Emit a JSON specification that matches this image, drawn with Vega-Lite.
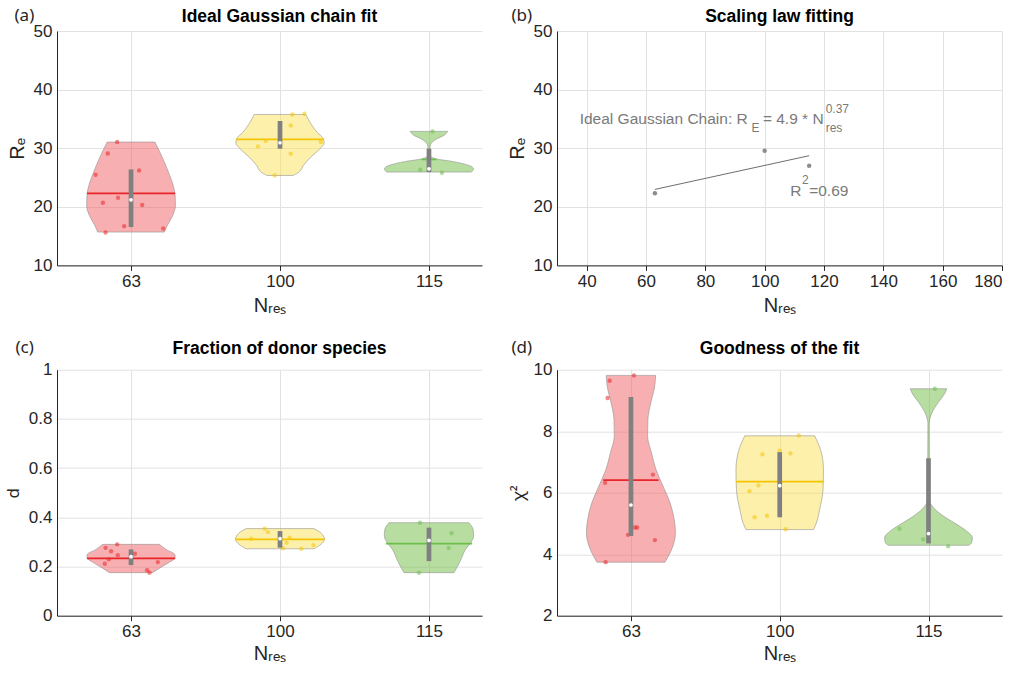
{
  "$schema": "https://vega.github.io/schema/vega-lite/v6.json",
  "background": "white",
  "padding": {"left": 4, "top": 6, "right": 10, "bottom": 5},
  "columns": 2,
  "bounds": "flush",
  "align": "each",
  "spacing": {"row": 103.7, "column": 75},
  "config": {
    "view": {"stroke": null},
    "font": "Liberation Sans, Arial, sans-serif",
    "axis": {
      "labelFont": "Liberation Sans, Arial, sans-serif",
      "labelFontSize": 17,
      "labelColor": "#262626",
      "titleFont": "Liberation Sans, Arial, sans-serif",
      "titleFontSize": 20,
      "titleFontWeight": "normal",
      "titleColor": "#262626",
      "domainColor": "#262626",
      "tickColor": "#262626",
      "gridColor": "#e2e2e2",
      "gridWidth": 1
    },
    "title": {"font": "Liberation Sans, Arial, sans-serif", "fontSize": 17.5, "fontWeight": "bold", "color": "#000000", "offset": 6}
  },
  "datasets": {
    "vioA": [
      {"g": "63", "v": 15.69, "x": 0.776, "x2": 1.224},
      {"g": "63", "v": 16.81, "x": 0.757, "x2": 1.243},
      {"g": "63", "v": 18.52, "x": 0.72, "x2": 1.28},
      {"g": "63", "v": 20.23, "x": 0.702, "x2": 1.298},
      {"g": "63", "v": 21.94, "x": 0.704, "x2": 1.296},
      {"g": "63", "v": 24.22, "x": 0.724, "x2": 1.276},
      {"g": "63", "v": 26.49, "x": 0.758, "x2": 1.242},
      {"g": "63", "v": 28.77, "x": 0.796, "x2": 1.204},
      {"g": "63", "v": 31.05, "x": 0.84, "x2": 1.16},
      {"g": "100", "v": 25.35, "x": 1.913, "x2": 2.087},
      {"g": "100", "v": 25.93, "x": 1.872, "x2": 2.128},
      {"g": "100", "v": 27.06, "x": 1.843, "x2": 2.157},
      {"g": "100", "v": 28.49, "x": 1.793, "x2": 2.207},
      {"g": "100", "v": 29.9, "x": 1.732, "x2": 2.268},
      {"g": "100", "v": 30.88, "x": 1.704, "x2": 2.296},
      {"g": "100", "v": 31.61, "x": 1.709, "x2": 2.291},
      {"g": "100", "v": 32.76, "x": 1.752, "x2": 2.248},
      {"g": "100", "v": 34.18, "x": 1.793, "x2": 2.207},
      {"g": "100", "v": 35.76, "x": 1.827, "x2": 2.173},
      {"g": "115", "v": 25.93, "x": 2.716, "x2": 3.284},
      {"g": "115", "v": 26.49, "x": 2.701, "x2": 3.299},
      {"g": "115", "v": 27.06, "x": 2.732, "x2": 3.268},
      {"g": "115", "v": 27.74, "x": 2.843, "x2": 3.157},
      {"g": "115", "v": 28.2, "x": 2.955, "x2": 3.045},
      {"g": "115", "v": 28.77, "x": 2.993, "x2": 3.007},
      {"g": "115", "v": 30.2, "x": 2.993, "x2": 3.007},
      {"g": "115", "v": 30.93, "x": 2.982, "x2": 3.018},
      {"g": "115", "v": 31.5, "x": 2.955, "x2": 3.045},
      {"g": "115", "v": 32.18, "x": 2.9, "x2": 3.1},
      {"g": "115", "v": 32.87, "x": 2.874, "x2": 3.126}
    ],
    "meanA": [
      {"g": "63", "v": 22.28, "x": 0.704, "x2": 1.296},
      {"g": "100", "v": 31.5, "x": 1.707, "x2": 2.293},
      {"g": "115", "v": 28.08, "x": 2.95, "x2": 3.05}
    ],
    "boxA": [
      {"g": "63", "x": 1, "v": 16.54, "v2": 26.38},
      {"g": "100", "x": 2, "v": 29.91, "v2": 34.64},
      {"g": "115", "x": 3, "v": 25.93, "v2": 29.91}
    ],
    "medA": [
      {"g": "63", "x": 1, "v": 21.2},
      {"g": "100", "x": 2, "v": 30.93},
      {"g": "115", "x": 3, "v": 26.49}
    ],
    "ptsA": [
      {"g": "63", "x": 0.907, "v": 31.05},
      {"g": "63", "x": 0.844, "v": 29.1},
      {"g": "63", "x": 0.762, "v": 25.47},
      {"g": "63", "x": 1.054, "v": 26.2},
      {"g": "63", "x": 0.811, "v": 20.69},
      {"g": "63", "x": 0.913, "v": 21.54},
      {"g": "63", "x": 1.075, "v": 20.3},
      {"g": "63", "x": 0.954, "v": 16.7},
      {"g": "63", "x": 0.829, "v": 15.62},
      {"g": "63", "x": 1.216, "v": 16.3},
      {"g": "100", "x": 2.083, "v": 35.76},
      {"g": "100", "x": 2.164, "v": 35.88},
      {"g": "100", "x": 2.072, "v": 33.89},
      {"g": "100", "x": 1.904, "v": 31.22},
      {"g": "100", "x": 1.852, "v": 30.3},
      {"g": "100", "x": 2.274, "v": 31.05},
      {"g": "100", "x": 2.072, "v": 29.05},
      {"g": "100", "x": 1.964, "v": 25.35},
      {"g": "115", "x": 3.024, "v": 32.87},
      {"g": "115", "x": 2.942, "v": 26.32},
      {"g": "115", "x": 3.087, "v": 25.81}
    ],
    "ptsB": [
      {"x": 63, "v": 22.3},
      {"x": 100, "v": 29.57},
      {"x": 115, "v": 27.0}
    ],
    "fitB": [
      {"x": 63, "v": 22.97},
      {"x": 115, "v": 28.72}
    ],
    "textB": [
      {"t": "Ideal Gaussian Chain: R", "x": 37.65, "v": 34.17, "k": "main"},
      {"t": "E", "x": 95.6, "v": 32.76, "k": "small"},
      {"t": "= 4.9 * N", "x": 99.4, "v": 34.17, "k": "main"},
      {"t": "0.37", "x": 120.57, "v": 36.05, "k": "small"},
      {"t": "res", "x": 120.57, "v": 32.76, "k": "small"},
      {"t": "R", "x": 108.6, "v": 21.83, "k": "main"},
      {"t": "2", "x": 112.6, "v": 23.93, "k": "small"},
      {"t": "=0.69", "x": 115.0, "v": 21.83, "k": "main"}
    ],
    "vioC": [
      {"g": "63", "v": 0.175, "x": 0.855, "x2": 1.145},
      {"g": "63", "v": 0.195, "x": 0.804, "x2": 1.196},
      {"g": "63", "v": 0.2155, "x": 0.748, "x2": 1.252},
      {"g": "63", "v": 0.236, "x": 0.704, "x2": 1.296},
      {"g": "63", "v": 0.249, "x": 0.706, "x2": 1.294},
      {"g": "63", "v": 0.2695, "x": 0.765, "x2": 1.235},
      {"g": "63", "v": 0.29, "x": 0.81, "x2": 1.19},
      {"g": "100", "v": 0.272, "x": 1.772, "x2": 2.228},
      {"g": "100", "v": 0.29, "x": 1.725, "x2": 2.275},
      {"g": "100", "v": 0.31, "x": 1.701, "x2": 2.299},
      {"g": "100", "v": 0.3374, "x": 1.727, "x2": 2.273},
      {"g": "100", "v": 0.354, "x": 1.772, "x2": 2.228},
      {"g": "115", "v": 0.175, "x": 2.832, "x2": 3.168},
      {"g": "115", "v": 0.222, "x": 2.79, "x2": 3.21},
      {"g": "115", "v": 0.27, "x": 2.754, "x2": 3.246},
      {"g": "115", "v": 0.297, "x": 2.72, "x2": 3.28},
      {"g": "115", "v": 0.324, "x": 2.7, "x2": 3.3},
      {"g": "115", "v": 0.351, "x": 2.704, "x2": 3.296},
      {"g": "115", "v": 0.378, "x": 2.732, "x2": 3.268}
    ],
    "meanC": [
      {"g": "63", "v": 0.233, "x": 0.704, "x2": 1.296},
      {"g": "100", "v": 0.31, "x": 1.701, "x2": 2.299},
      {"g": "115", "v": 0.293, "x": 2.71, "x2": 3.29}
    ],
    "boxC": [
      {"g": "63", "x": 1, "v": 0.2057, "v2": 0.2695},
      {"g": "100", "x": 2, "v": 0.2764, "v2": 0.344},
      {"g": "115", "x": 3, "v": 0.222, "v2": 0.358}
    ],
    "medC": [
      {"g": "63", "x": 1, "v": 0.24},
      {"g": "100", "x": 2, "v": 0.313},
      {"g": "115", "x": 3, "v": 0.306}
    ],
    "ptsC": [
      {"g": "63", "x": 0.829, "v": 0.276},
      {"g": "63", "x": 0.866, "v": 0.262},
      {"g": "63", "x": 0.907, "v": 0.29},
      {"g": "63", "x": 0.911, "v": 0.246},
      {"g": "63", "x": 0.851, "v": 0.229},
      {"g": "63", "x": 0.824, "v": 0.211},
      {"g": "63", "x": 1.026, "v": 0.252},
      {"g": "63", "x": 1.18, "v": 0.218},
      {"g": "63", "x": 1.108, "v": 0.185},
      {"g": "63", "x": 1.124, "v": 0.175},
      {"g": "100", "x": 1.897, "v": 0.354},
      {"g": "100", "x": 1.919, "v": 0.34},
      {"g": "100", "x": 1.807, "v": 0.313},
      {"g": "100", "x": 2.065, "v": 0.317},
      {"g": "100", "x": 2.044, "v": 0.297},
      {"g": "100", "x": 2.02, "v": 0.274},
      {"g": "100", "x": 2.143, "v": 0.272},
      {"g": "100", "x": 2.224, "v": 0.287},
      {"g": "115", "x": 2.94, "v": 0.378},
      {"g": "115", "x": 3.152, "v": 0.335},
      {"g": "115", "x": 3.132, "v": 0.276},
      {"g": "115", "x": 2.933, "v": 0.175}
    ],
    "vioD": [
      {"g": "63", "v": 3.74, "x": 0.771, "x2": 1.229},
      {"g": "63", "v": 3.94, "x": 0.748, "x2": 1.252},
      {"g": "63", "v": 4.26, "x": 0.718, "x2": 1.282},
      {"g": "63", "v": 4.7, "x": 0.701, "x2": 1.299},
      {"g": "63", "v": 5.13, "x": 0.709, "x2": 1.291},
      {"g": "63", "v": 5.67, "x": 0.737, "x2": 1.263},
      {"g": "63", "v": 6.21, "x": 0.784, "x2": 1.216},
      {"g": "63", "v": 6.76, "x": 0.832, "x2": 1.168},
      {"g": "63", "v": 7.3, "x": 0.862, "x2": 1.138},
      {"g": "63", "v": 7.84, "x": 0.888, "x2": 1.112},
      {"g": "63", "v": 8.38, "x": 0.886, "x2": 1.114},
      {"g": "63", "v": 8.93, "x": 0.866, "x2": 1.134},
      {"g": "63", "v": 9.47, "x": 0.84, "x2": 1.16},
      {"g": "63", "v": 9.815, "x": 0.834, "x2": 1.166},
      {"g": "100", "v": 4.8, "x": 1.773, "x2": 2.227},
      {"g": "100", "v": 5.01, "x": 1.754, "x2": 2.246},
      {"g": "100", "v": 5.45, "x": 1.732, "x2": 2.268},
      {"g": "100", "v": 6.1, "x": 1.709, "x2": 2.291},
      {"g": "100", "v": 6.75, "x": 1.706, "x2": 2.294},
      {"g": "100", "v": 7.4, "x": 1.726, "x2": 2.274},
      {"g": "100", "v": 7.85, "x": 1.765, "x2": 2.235},
      {"g": "115", "v": 4.29, "x": 2.73, "x2": 3.27},
      {"g": "115", "v": 4.37, "x": 2.71, "x2": 3.29},
      {"g": "115", "v": 4.54, "x": 2.705, "x2": 3.295},
      {"g": "115", "v": 4.75, "x": 2.743, "x2": 3.257},
      {"g": "115", "v": 4.97, "x": 2.81, "x2": 3.19},
      {"g": "115", "v": 5.24, "x": 2.9, "x2": 3.1},
      {"g": "115", "v": 5.51, "x": 2.966, "x2": 3.034},
      {"g": "115", "v": 5.78, "x": 2.994, "x2": 3.006},
      {"g": "115", "v": 8.28, "x": 2.996, "x2": 3.004},
      {"g": "115", "v": 8.44, "x": 2.989, "x2": 3.011},
      {"g": "115", "v": 8.65, "x": 2.972, "x2": 3.028},
      {"g": "115", "v": 8.93, "x": 2.935, "x2": 3.065},
      {"g": "115", "v": 9.2, "x": 2.894, "x2": 3.106},
      {"g": "115", "v": 9.38, "x": 2.877, "x2": 3.123}
    ],
    "meanD": [
      {"g": "63", "v": 6.41, "x": 0.814, "x2": 1.186},
      {"g": "100", "v": 6.36, "x": 1.706, "x2": 2.294},
      {"g": "115", "v": 5.73, "x": 2.99, "x2": 3.01}
    ],
    "boxD": [
      {"g": "63", "x": 1, "v": 4.59, "v2": 9.11},
      {"g": "100", "x": 2, "v": 5.2, "v2": 7.32},
      {"g": "115", "x": 3, "v": 4.35, "v2": 7.12}
    ],
    "medD": [
      {"g": "63", "x": 1, "v": 5.6},
      {"g": "100", "x": 2, "v": 6.23},
      {"g": "115", "x": 3, "v": 4.67}
    ],
    "ptsD": [
      {"g": "63", "x": 0.857, "v": 9.64},
      {"g": "63", "x": 1.02, "v": 9.815},
      {"g": "63", "x": 0.843, "v": 9.08},
      {"g": "63", "x": 0.826, "v": 6.32},
      {"g": "63", "x": 1.148, "v": 6.59},
      {"g": "63", "x": 1.027, "v": 4.87},
      {"g": "63", "x": 1.042, "v": 4.87},
      {"g": "63", "x": 0.98, "v": 4.63},
      {"g": "63", "x": 1.161, "v": 4.46},
      {"g": "63", "x": 0.83, "v": 3.74},
      {"g": "100", "x": 2.128, "v": 7.86},
      {"g": "100", "x": 1.884, "v": 7.25},
      {"g": "100", "x": 2.072, "v": 7.28},
      {"g": "100", "x": 2.0, "v": 7.37},
      {"g": "100", "x": 1.857, "v": 6.24},
      {"g": "100", "x": 1.797, "v": 6.05},
      {"g": "100", "x": 1.831, "v": 5.2},
      {"g": "100", "x": 1.914, "v": 5.25},
      {"g": "100", "x": 2.04, "v": 4.81},
      {"g": "115", "x": 3.042, "v": 9.38},
      {"g": "115", "x": 2.805, "v": 4.83},
      {"g": "115", "x": 2.964, "v": 4.48},
      {"g": "115", "x": 3.132, "v": 4.26}
    ]
  },
  "concat": [
    {
      "width": 425,
      "height": 234.4,
      "title": {"text": "Ideal Gaussian chain fit", "dx": 10, "dy": 25},
      "resolve": {"axis": {"x": "independent"}, "scale": {"color": "independent"}},
      "layer": [
        {
          "resolve": {"scale": {"color": "independent"}},
          "encoding": {
            "x": {"field": "x", "type": "quantitative", "scale": {"domain": [0.503, 3.356], "nice": false, "zero": false},
              "axis": {"values": [1, 2, 3], "labelExpr": "datum.value == 1 ? '63' : datum.value == 2 ? '100' : '115'", "title": "Nᵣₑₛ", "grid": true, "tickSize": 5, "labelPadding": 3, "titlePadding": 6}},
            "y": {"field": "v", "type": "quantitative", "scale": {"domain": [10, 50], "nice": false, "zero": false},
              "axis": {"values": [10, 20, 30, 40, 50], "title": "Rₑ", "grid": true, "ticks": false, "labelPadding": 5, "titlePadding": 6}}
          },
          "layer": [
            {"data": {"name": "vioA"}, "mark": {"type": "area", "orient": "horizontal", "interpolate": "monotone", "fillOpacity": 0.5, "stroke": "#8c8c8c", "strokeWidth": 0.8, "strokeOpacity": 0.7},
              "encoding": {"x2": {"field": "x2"}, "color": {"field": "g", "type": "nominal", "scale": {"domain": ["63", "100", "115"], "range": ["#ef5f63", "#f9e155", "#71bb41"]}, "legend": null}}},
            {"data": {"name": "meanA"}, "mark": {"type": "rule", "strokeWidth": 1.7},
              "encoding": {"x2": {"field": "x2"}, "color": {"field": "g", "type": "nominal", "scale": {"domain": ["63", "100", "115"], "range": ["#e8262a", "#f5c400", "#6cc04a"]}, "legend": null}}},
            {"data": {"name": "ptsA"}, "mark": {"type": "circle", "size": 19, "opacity": 0.55},
              "encoding": {"color": {"field": "g", "type": "nominal", "scale": {"domain": ["63", "100", "115"], "range": ["#e8262a", "#f5c400", "#6cc04a"]}, "legend": null}}},
            {"data": {"name": "boxA"}, "mark": {"type": "rule", "strokeWidth": 4.7, "color": "#808080", "strokeCap": "butt"},
              "encoding": {"y2": {"field": "v2"}}},
            {"data": {"name": "medA"}, "mark": {"type": "circle", "size": 14, "color": "#ffffff", "opacity": 1}}
          ]
        },
        {
          "data": {"name": "medA"},
          "mark": {"type": "point", "opacity": 0},
          "encoding": {
            "x": {"field": "x", "type": "quantitative", "axis": {"orient": "top", "labels": false, "ticks": false, "domain": false, "grid": false, "title": "(a)", "titleX": -43, "titleY": -11, "titleAlign": "left", "titleBaseline": "alphabetic", "titleFont": "Noto Sans", "titleFontSize": 17, "titleColor": "#262626"}},
            "y": {"field": "v", "type": "quantitative"}
          }
        }
      ]
    },
    {
      "width": 445,
      "height": 234.4,
      "title": {"text": "Scaling law fitting", "dy": 25},
      "resolve": {"axis": {"x": "independent"}},
      "layer": [
        {
          "encoding": {
            "x": {"field": "x", "type": "quantitative", "scale": {"domain": [30, 180], "nice": false, "zero": false},
              "axis": {"values": [40, 60, 80, 100, 120, 140, 160, 180], "title": "Nᵣₑₛ", "grid": true, "tickSize": 5, "labelPadding": 3, "titlePadding": 6}},
            "y": {"field": "v", "type": "quantitative", "scale": {"domain": [10, 50], "nice": false, "zero": false},
              "axis": {"values": [10, 20, 30, 40, 50], "title": "Rₑ", "grid": true, "ticks": false, "labelPadding": 5, "titlePadding": 6}}
          },
          "layer": [
            {"data": {"name": "fitB"}, "mark": {"type": "line", "color": "#6e6e6e", "strokeWidth": 1}},
            {"data": {"name": "ptsB"}, "mark": {"type": "circle", "size": 20, "color": "#8c8c8c", "opacity": 1}},
            {"data": {"name": "textB"}, "transform": [{"filter": "datum.k == 'main'"}],
              "mark": {"type": "text", "align": "left", "baseline": "alphabetic", "fontSize": 15.5, "color": "#7a7a7a", "font": "Liberation Sans, Arial, sans-serif"},
              "encoding": {"text": {"field": "t"}}},
            {"data": {"name": "textB"}, "transform": [{"filter": "datum.k == 'small'"}],
              "mark": {"type": "text", "align": "left", "baseline": "alphabetic", "fontSize": 12, "color": "#7a7a7a", "font": "Liberation Sans, Arial, sans-serif"},
              "encoding": {"text": {"field": "t"}}}
          ]
        },
        {
          "data": {"name": "ptsB"},
          "mark": {"type": "point", "opacity": 0},
          "encoding": {
            "x": {"field": "x", "type": "quantitative", "axis": {"orient": "top", "labels": false, "ticks": false, "domain": false, "grid": false, "title": "(b)", "titleX": -46, "titleY": -11, "titleAlign": "left", "titleBaseline": "alphabetic", "titleFont": "Noto Sans", "titleFontSize": 17, "titleColor": "#262626"}},
            "y": {"field": "v", "type": "quantitative"}
          }
        }
      ]
    },
    {
      "width": 425,
      "height": 246,
      "title": {"text": "Fraction of donor species", "dx": 10, "dy": 25},
      "resolve": {"axis": {"x": "independent"}, "scale": {"color": "independent"}},
      "layer": [
        {
          "resolve": {"scale": {"color": "independent"}},
          "encoding": {
            "x": {"field": "x", "type": "quantitative", "scale": {"domain": [0.503, 3.356], "nice": false, "zero": false},
              "axis": {"values": [1, 2, 3], "labelExpr": "datum.value == 1 ? '63' : datum.value == 2 ? '100' : '115'", "title": "Nᵣₑₛ", "grid": true, "tickSize": 5, "labelPadding": 3, "titlePadding": 4}},
            "y": {"field": "v", "type": "quantitative", "scale": {"domain": [0, 1], "nice": false, "zero": false},
              "axis": {"values": [0, 0.2, 0.4, 0.6, 0.8, 1], "format": "~g", "title": "d", "titleFont": "Noto Sans", "titleFontSize": 17, "grid": true, "ticks": false, "labelPadding": 5, "titlePadding": 6}}
          },
          "layer": [
            {"data": {"name": "vioC"}, "mark": {"type": "area", "orient": "horizontal", "interpolate": "monotone", "fillOpacity": 0.5, "stroke": "#8c8c8c", "strokeWidth": 0.8, "strokeOpacity": 0.7},
              "encoding": {"x2": {"field": "x2"}, "color": {"field": "g", "type": "nominal", "scale": {"domain": ["63", "100", "115"], "range": ["#ef5f63", "#f9e155", "#71bb41"]}, "legend": null}}},
            {"data": {"name": "meanC"}, "mark": {"type": "rule", "strokeWidth": 1.7},
              "encoding": {"x2": {"field": "x2"}, "color": {"field": "g", "type": "nominal", "scale": {"domain": ["63", "100", "115"], "range": ["#e8262a", "#f5c400", "#6cc04a"]}, "legend": null}}},
            {"data": {"name": "ptsC"}, "mark": {"type": "circle", "size": 19, "opacity": 0.55},
              "encoding": {"color": {"field": "g", "type": "nominal", "scale": {"domain": ["63", "100", "115"], "range": ["#e8262a", "#f5c400", "#6cc04a"]}, "legend": null}}},
            {"data": {"name": "boxC"}, "mark": {"type": "rule", "strokeWidth": 4.7, "color": "#808080", "strokeCap": "butt"},
              "encoding": {"y2": {"field": "v2"}}},
            {"data": {"name": "medC"}, "mark": {"type": "circle", "size": 14, "color": "#ffffff", "opacity": 1}}
          ]
        },
        {
          "data": {"name": "medC"},
          "mark": {"type": "point", "opacity": 0},
          "encoding": {
            "x": {"field": "x", "type": "quantitative", "axis": {"orient": "top", "labels": false, "ticks": false, "domain": false, "grid": false, "title": "(c)", "titleX": -42, "titleY": -17, "titleAlign": "left", "titleBaseline": "alphabetic", "titleFont": "Noto Sans", "titleFontSize": 17, "titleColor": "#262626"}},
            "y": {"field": "v", "type": "quantitative"}
          }
        }
      ]
    },
    {
      "width": 445,
      "height": 246,
      "title": {"text": "Goodness of the fit", "dy": 25},
      "resolve": {"axis": {"x": "independent"}, "scale": {"color": "independent"}},
      "layer": [
        {
          "resolve": {"scale": {"color": "independent"}},
          "encoding": {
            "x": {"field": "x", "type": "quantitative", "scale": {"domain": [0.503, 3.494], "nice": false, "zero": false},
              "axis": {"values": [1, 2, 3], "labelExpr": "datum.value == 1 ? '63' : datum.value == 2 ? '100' : '115'", "title": "Nᵣₑₛ", "grid": true, "tickSize": 5, "labelPadding": 3, "titlePadding": 4}},
            "y": {"field": "v", "type": "quantitative", "scale": {"domain": [2, 10], "nice": false, "zero": false},
              "axis": {"values": [2, 4, 6, 8, 10], "title": "χ²", "titleFont": "Noto Sans", "titleFontSize": 17, "grid": true, "ticks": false, "labelPadding": 5, "titlePadding": 6}}
          },
          "layer": [
            {"data": {"name": "vioD"}, "mark": {"type": "area", "orient": "horizontal", "interpolate": "monotone", "fillOpacity": 0.5, "stroke": "#8c8c8c", "strokeWidth": 0.8, "strokeOpacity": 0.7},
              "encoding": {"x2": {"field": "x2"}, "color": {"field": "g", "type": "nominal", "scale": {"domain": ["63", "100", "115"], "range": ["#ef5f63", "#f9e155", "#71bb41"]}, "legend": null}}},
            {"data": {"name": "meanD"}, "mark": {"type": "rule", "strokeWidth": 1.7},
              "encoding": {"x2": {"field": "x2"}, "color": {"field": "g", "type": "nominal", "scale": {"domain": ["63", "100", "115"], "range": ["#e8262a", "#f5c400", "#6cc04a"]}, "legend": null}}},
            {"data": {"name": "ptsD"}, "mark": {"type": "circle", "size": 19, "opacity": 0.55},
              "encoding": {"color": {"field": "g", "type": "nominal", "scale": {"domain": ["63", "100", "115"], "range": ["#e8262a", "#f5c400", "#6cc04a"]}, "legend": null}}},
            {"data": {"name": "boxD"}, "mark": {"type": "rule", "strokeWidth": 4.7, "color": "#808080", "strokeCap": "butt"},
              "encoding": {"y2": {"field": "v2"}}},
            {"data": {"name": "medD"}, "mark": {"type": "circle", "size": 14, "color": "#ffffff", "opacity": 1}}
          ]
        },
        {
          "data": {"name": "medD"},
          "mark": {"type": "point", "opacity": 0},
          "encoding": {
            "x": {"field": "x", "type": "quantitative", "axis": {"orient": "top", "labels": false, "ticks": false, "domain": false, "grid": false, "title": "(d)", "titleX": -46, "titleY": -17, "titleAlign": "left", "titleBaseline": "alphabetic", "titleFont": "Noto Sans", "titleFontSize": 17, "titleColor": "#262626"}},
            "y": {"field": "v", "type": "quantitative"}
          }
        }
      ]
    }
  ]
}
